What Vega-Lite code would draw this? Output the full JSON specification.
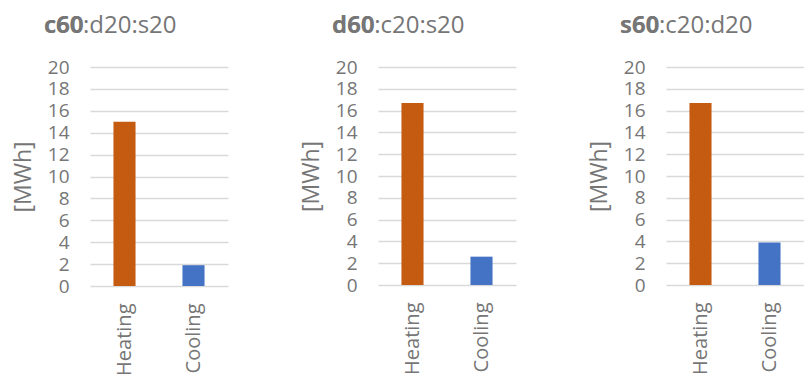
{
  "$schema": "https://vega.github.io/schema/vega-lite/v6.json",
  "padding": {"left": 12, "top": 14, "right": 0, "bottom": 0},
  "spacing": 72,
  "datasets": {
    "energy": [
      {"mix": "c60:d20:s20", "use": "Heating", "mwh": 15.0},
      {"mix": "c60:d20:s20", "use": "Cooling", "mwh": 1.9},
      {"mix": "d60:c20:s20", "use": "Heating", "mwh": 16.7},
      {"mix": "d60:c20:s20", "use": "Cooling", "mwh": 2.6},
      {"mix": "s60:c20:d20", "use": "Heating", "mwh": 16.7},
      {"mix": "s60:c20:d20", "use": "Cooling", "mwh": 3.9}
    ]
  },
  "config": {
    "view": {"stroke": null},
    "font": "Open Sans",
    "title": {
      "font": "Open Sans",
      "fontSize": 24,
      "fontWeight": "normal",
      "color": "#767676",
      "anchor": "start",
      "frame": "group",
      "dx": -46,
      "subtitleFont": "Open Sans",
      "subtitleFontSize": 24,
      "subtitleFontWeight": "bold",
      "subtitleColor": "#767676",
      "subtitlePadding": -24
    },
    "axisY": {
      "domain": false,
      "ticks": false,
      "tickSize": 0,
      "grid": true,
      "gridColor": "#D9D9D9",
      "gridWidth": 1.5,
      "labelFont": "Open Sans",
      "labelFontSize": 19,
      "labelColor": "#767676",
      "labelPadding": 21,
      "titleFont": "Open Sans",
      "titleFontSize": 23,
      "titleFontWeight": "normal",
      "titleColor": "#767676",
      "titlePadding": 12
    },
    "axisX": {
      "domain": false,
      "ticks": false,
      "tickSize": 0,
      "grid": false,
      "labelAngle": -90,
      "labelFont": "Open Sans",
      "labelFontSize": 20,
      "labelColor": "#767676",
      "labelPadding": 17
    },
    "bar": {"stroke": null}
  },
  "hconcat": [
    {
      "data": {"name": "energy"},
      "transform": [{"filter": "datum.mix === 'c60:d20:s20'"}],
      "width": 138,
      "height": 219,
      "title": {"text": "c60:d20:s20", "subtitle": "c60", "offset": 20},
      "mark": "bar",
      "encoding": {
        "x": {"field": "use", "type": "nominal", "sort": ["Heating", "Cooling"], "title": null,
              "scale": {"paddingInner": 0.68, "paddingOuter": 0.34}},
        "y": {"field": "mwh", "type": "quantitative", "title": "[MWh]",
              "scale": {"domain": [0, 20], "nice": false},
              "axis": {"values": [0, 2, 4, 6, 8, 10, 12, 14, 16, 18, 20]}},
        "color": {"field": "use", "type": "nominal", "legend": null,
                  "scale": {"domain": ["Heating", "Cooling"], "range": ["#C55A11", "#4472C4"]}}
      }
    },
    {
      "data": {"name": "energy"},
      "transform": [{"filter": "datum.mix === 'd60:c20:s20'"}],
      "width": 138,
      "height": 218,
      "title": {"text": "d60:c20:s20", "subtitle": "d60", "offset": 20},
      "mark": "bar",
      "encoding": {
        "x": {"field": "use", "type": "nominal", "sort": ["Heating", "Cooling"], "title": null,
              "scale": {"paddingInner": 0.68, "paddingOuter": 0.34}},
        "y": {"field": "mwh", "type": "quantitative", "title": "[MWh]",
              "scale": {"domain": [0, 20], "nice": false},
              "axis": {"values": [0, 2, 4, 6, 8, 10, 12, 14, 16, 18, 20]}},
        "color": {"field": "use", "type": "nominal", "legend": null,
                  "scale": {"domain": ["Heating", "Cooling"], "range": ["#C55A11", "#4472C4"]}}
      }
    },
    {
      "data": {"name": "energy"},
      "transform": [{"filter": "datum.mix === 's60:c20:d20'"}],
      "width": 138,
      "height": 218,
      "title": {"text": "s60:c20:d20", "subtitle": "s60", "offset": 20},
      "mark": "bar",
      "encoding": {
        "x": {"field": "use", "type": "nominal", "sort": ["Heating", "Cooling"], "title": null,
              "scale": {"paddingInner": 0.68, "paddingOuter": 0.34}},
        "y": {"field": "mwh", "type": "quantitative", "title": "[MWh]",
              "scale": {"domain": [0, 20], "nice": false},
              "axis": {"values": [0, 2, 4, 6, 8, 10, 12, 14, 16, 18, 20]}},
        "color": {"field": "use", "type": "nominal", "legend": null,
                  "scale": {"domain": ["Heating", "Cooling"], "range": ["#C55A11", "#4472C4"]}}
      }
    }
  ]
}
